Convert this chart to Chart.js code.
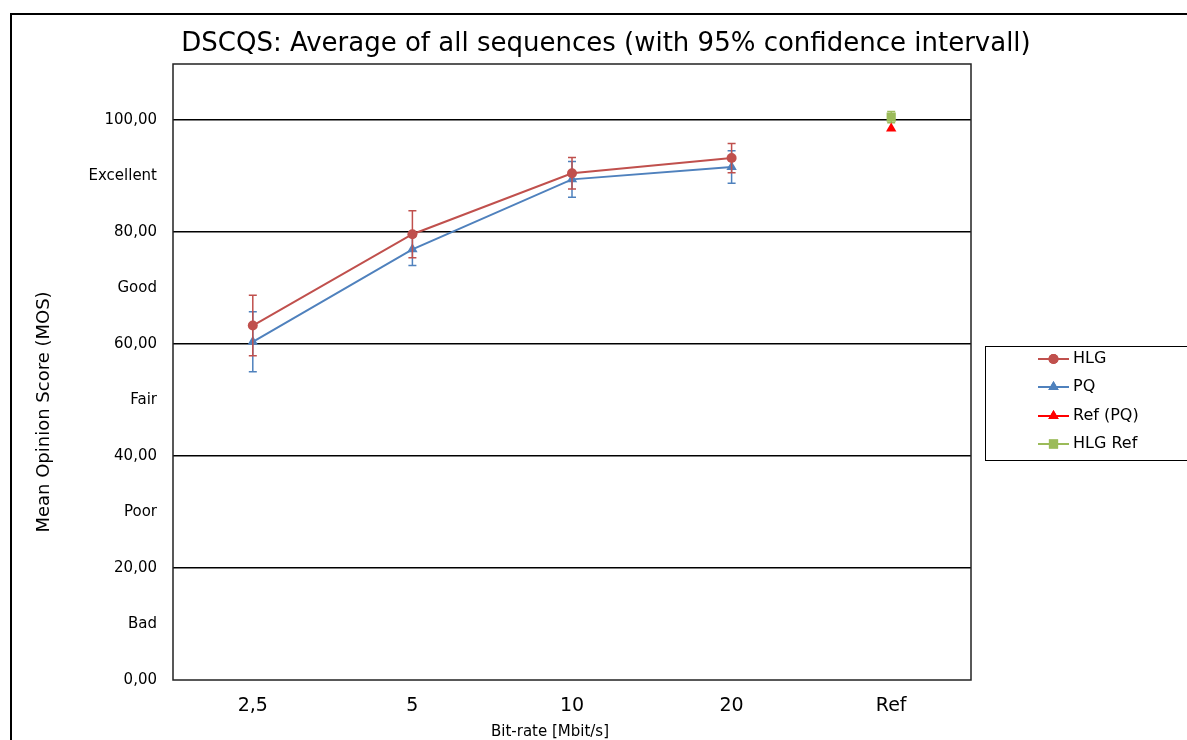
<!DOCTYPE html>
<html>
<head>
<meta charset="utf-8">
<script src="https://cdn.jsdelivr.net/npm/chart.js@4/dist/chart.umd.min.js"></script>
<style>
  html, body { margin: 0; padding: 0; background: #fff; }
  #wrap { width: 1187px; height: 740px; position: relative; }
</style>
</head>
<body>
<div id="wrap"><canvas id="c" width="1187" height="740"></canvas></div>
<script>
// ---- data ----
const categories = ['2,5', '5', '10', '20', 'Ref'];
const hlgMeans   = [63.3, 79.6, 90.5, 93.2, null];
const hlgErr     = [5.4, 4.2, 2.8, 2.6, null];
const pqMeans    = [60.4, 76.9, 89.4, 91.6, null];
const pqErr      = [5.35, 2.9, 3.2, 2.9, null];
const refPqMeans = [null, null, null, null, 98.5];
const refPqErr   = [null, null, null, null, 0];
const hlgRefMeans = [null, null, null, null, 100.5];
const hlgRefErr   = [null, null, null, null, 1.0];
const yTickValues = [0, 10, 20, 30, 40, 50, 60, 70, 80, 90, 100];
const yTickLabels = ['0,00', 'Bad', '20,00', 'Poor', '40,00', 'Fair', '60,00', 'Good', '80,00', 'Excellent', '100,00'];
const titleText = 'DSCQS: Average of all sequences (with 95% confidence intervall)';
const xTitle = 'Bit-rate [Mbit/s]';
const yTitle = 'Mean Opinion Score (MOS)';

const FONT = '"DejaVu Sans", Verdana, sans-serif';

const datasets = [
  { label: 'HLG', data: hlgMeans, err: hlgErr, borderColor: '#C0504D', backgroundColor: '#C0504D', pointStyle: 'circle', pointRadius: 5 },
  { label: 'PQ', data: pqMeans, err: pqErr, borderColor: '#4F81BD', backgroundColor: '#4F81BD', pointStyle: 'triangle', pointRadius: 6 },
  { label: 'Ref (PQ)', data: refPqMeans, err: refPqErr, borderColor: '#FF0000', backgroundColor: '#FF0000', pointStyle: 'triangle', pointRadius: 6 },
  { label: 'HLG Ref', data: hlgRefMeans, err: hlgRefErr, borderColor: '#9BBB59', backgroundColor: '#9BBB59', pointStyle: 'rect', pointRadius: 6.5 }
].map(d => Object.assign({ borderWidth: 2, pointBorderWidth: 0, pointHoverRadius: d.pointRadius, spanGaps: false }, d));

const errorBars = {
  id: 'errorBars',
  beforeDatasetDraw(chart, args) {
    const ds = chart.data.datasets[args.index];
    const meta = args.meta;
    const y = chart.scales.y;
    const ctx = chart.ctx;
    ctx.save();
    ctx.strokeStyle = ds.borderColor;
    ctx.lineWidth = 1.5;
    ds.data.forEach((v, i) => {
      if (v == null || !ds.err[i]) return;
      const px = meta.data[i].x;
      const top = y.getPixelForValue(v + ds.err[i]);
      const bot = y.getPixelForValue(v - ds.err[i]);
      ctx.beginPath();
      ctx.moveTo(px, top); ctx.lineTo(px, bot);
      ctx.moveTo(px - 4, top); ctx.lineTo(px + 4, top);
      ctx.moveTo(px - 4, bot); ctx.lineTo(px + 4, bot);
      ctx.stroke();
    });
    ctx.restore();
  }
};

const decor = {
  id: 'decor',
  afterDraw(chart) {
    const ctx = chart.ctx;
    const a = chart.chartArea;
    ctx.save();
    // outer chart frame
    ctx.strokeStyle = '#000';
    ctx.lineWidth = 2;
    ctx.strokeRect(11, 14, 1400, 900);
    // plot area frame
    ctx.strokeStyle = '#222';
    ctx.lineWidth = 1.5;
    ctx.strokeRect(a.left, a.top, a.right - a.left, a.bottom - a.top);
    // title
    ctx.fillStyle = '#000';
    ctx.font = '26px ' + FONT;
    ctx.textAlign = 'center';
    ctx.textBaseline = 'middle';
    ctx.fillText(titleText, 606, 44);
    // axis titles
    ctx.font = '15px ' + FONT;
    ctx.fillText(xTitle, 550, 732);
    ctx.save();
    ctx.translate(44, 412);
    ctx.rotate(-Math.PI / 2);
    ctx.font = '18px ' + FONT;
    ctx.fillText(yTitle, 0, 0);
    ctx.restore();
    // legend
    ctx.strokeStyle = '#000';
    ctx.lineWidth = 1;
    ctx.strokeRect(985.5, 346.5, 400, 114);
    const ys = [359, 387, 416, 444];
    chart.data.datasets.forEach((ds, i) => {
      const yy = ys[i];
      ctx.strokeStyle = ds.borderColor;
      ctx.lineWidth = 2;
      ctx.beginPath();
      ctx.moveTo(1038, yy); ctx.lineTo(1069, yy);
      ctx.stroke();
      ctx.fillStyle = ds.backgroundColor;
      Chart.helpers.drawPoint(ctx, { pointStyle: ds.pointStyle, radius: ds.pointRadius, rotation: 0, borderWidth: 0 }, 1053.5, yy);
      ctx.fill();
      ctx.fillStyle = '#000';
      ctx.font = '16px ' + FONT;
      ctx.textAlign = 'left';
      ctx.fillText(ds.label, 1073, yy);
    });
    ctx.restore();
  }
};

new Chart(document.getElementById('c'), {
  type: 'line',
  data: { labels: categories, datasets },
  options: {
    responsive: false,
    animation: false,
    layout: { padding: { top: 64, right: 216, left: 0, bottom: 0 } },
    plugins: { legend: { display: false }, title: { display: false }, tooltip: { enabled: false } },
    scales: {
      x: {
        offset: true,
        grid: { display: false, drawTicks: false },
        border: { display: false },
        ticks: { color: '#000', font: { family: FONT, size: 19 }, padding: 15 },
        afterFit(s) { s.height = 60; }
      },
      y: {
        min: 0, max: 110,
        afterBuildTicks(s) { s.ticks = yTickValues.map(v => ({ value: v })); },
        grid: {
          drawTicks: false,
          lineWidth: 1.5,
          color: c => (c.tick && c.tick.value % 20 === 0 && c.tick.value > 0 && c.tick.value < 110) ? '#000' : 'rgba(0,0,0,0)'
        },
        border: { display: false },
        ticks: {
          color: '#000',
          font: { family: FONT, size: 15 },
          padding: 16,
          autoSkip: false,
          callback: v => yTickLabels[yTickValues.indexOf(v)]
        },
        afterFit(s) { s.width = 173; }
      }
    }
  },
  plugins: [errorBars, decor]
});
</script>
</body>
</html>
